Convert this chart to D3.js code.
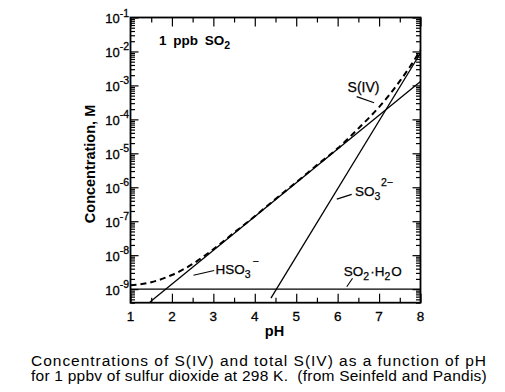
<!DOCTYPE html>
<html>
<head>
<meta charset="utf-8">
<script src="https://cdn.jsdelivr.net/npm/d3@7"></script>
<style>
  body { margin: 0; background: #fff; }
  svg { display: block; font-family: "Liberation Sans", Arial, Helvetica, sans-serif; }
</style>
</head>
<body>
<script>
// x axis (pH) ticks and y axis decades
const phTicks = [1, 2, 3, 4, 5, 6, 7, 8];
const phMinor = [1.5, 2.5, 3.5, 4.5, 5.5, 6.5, 7.5];
const decades = [-9, -8, -7, -6, -5, -4, -3, -2, -1];

// total S(IV), dashed curve
const sivPH = [1, 1.5, 2, 2.5, 3, 3.5, 4, 4.5, 5, 5.5, 6, 6.5, 7, 7.25, 7.5, 7.75, 8];
const sivConc = [1.3e-9, 1.6e-9, 2.6e-9, 5.5e-9, 1.5e-8, 4.6e-8, 1.4e-7, 4.5e-7, 1.4e-6,
                 4.5e-6, 1.4e-5, 5.4e-5, 2.3e-4, 5.3e-4, 1.34e-3, 3.6e-3, 1.1e-2];

// species, solid lines
const hso3PH = [1.47, 8];
const hso3Conc = [4.2e-10, 1.3e-3];
const so3PH = [4.39, 8];
const so3Conc = [5.4e-10, 9e-3];
const so2PH = [1, 8];
const so2Conc = [1.0e-9, 1.0e-9];

const caption = [
    "Concentrations of S(IV) and total S(IV) as a function of pH",
    "for 1 ppbv of sulfur dioxide at 298 K.  (from Seinfeld and Pandis)"
];

const width = 505, height = 392;
const plot = { left: 130.5, right: 420.5, top: 17.5, bottom: 302.7 };

const svg = d3.select('body').append('svg')
    .attr('width', width)
    .attr('height', height);

const x = d3.scaleLinear().domain([1, 8]).range([plot.left, plot.right]);
const y = d3.scaleLog().domain([Math.pow(10, -9.4), 0.1]).range([plot.bottom, plot.top]);

// minor ticks on the log axis
const yMajor = decades.map(d => Math.pow(10, d));
const yMinor = [];
for (let n = -10; n <= -2; n++) {
    for (let k = 2; k <= 9; k++) {
        const v = k * Math.pow(10, n);
        if (v >= y.domain()[0] && v <= y.domain()[1]) yMinor.push(v);
    }
}

function tickAxis(axis, values, size, transform) {
    svg.append('g')
        .attr('transform', transform)
        .call(axis.tickValues(values).tickSize(size).tickFormat(''))
        .call(g => g.select('.domain').remove())
        .call(g => g.selectAll('line').attr('stroke', '#000').attr('stroke-width', 1.2));
}

// ticks pointing inwards on all four sides
tickAxis(d3.axisLeft(y), yMajor, -8, `translate(${plot.left},0)`);
tickAxis(d3.axisLeft(y), yMinor, -4.5, `translate(${plot.left},0)`);
tickAxis(d3.axisRight(y), yMajor, -8, `translate(${plot.right},0)`);
tickAxis(d3.axisRight(y), yMinor, -4.5, `translate(${plot.right},0)`);
tickAxis(d3.axisBottom(x), phTicks, -9, `translate(0,${plot.bottom})`);
tickAxis(d3.axisBottom(x), phMinor, -5, `translate(0,${plot.bottom})`);
tickAxis(d3.axisTop(x), phTicks, -9, `translate(0,${plot.top})`);
tickAxis(d3.axisTop(x), phMinor, -5, `translate(0,${plot.top})`);

// frame
svg.append('rect')
    .attr('x', plot.left)
    .attr('y', plot.top)
    .attr('width', plot.right - plot.left)
    .attr('height', plot.bottom - plot.top)
    .attr('fill', 'none')
    .attr('stroke', '#000')
    .attr('stroke-width', 1.8);

// x tick labels
svg.append('g').selectAll('text')
    .data(phTicks)
    .enter()
    .append('text')
    .attr('x', d => x(d))
    .attr('y', 320.5)
    .attr('text-anchor', 'middle')
    .style('font-size', '13.5px')
    .style('stroke', '#000')
    .style('stroke-width', 0.3)
    .text(d => d);

// y tick labels with superscript exponents
const yLabels = svg.append('g').selectAll('text')
    .data(decades)
    .enter()
    .append('text')
    .attr('x', plot.left - 1.5)
    .attr('y', d => y(Math.pow(10, d)) + 5.5)
    .attr('text-anchor', 'end')
    .style('font-size', '13px')
    .style('stroke', '#000')
    .style('stroke-width', 0.3);
yLabels.append('tspan').text('10');
yLabels.append('tspan')
    .attr('dy', -6.5)
    .style('font-size', '10.5px')
    .text(d => '-' + Math.abs(d));

// axis titles
svg.append('text')
    .attr('x', 274.5)
    .attr('y', 335.5)
    .attr('text-anchor', 'middle')
    .style('font-size', '14.5px')
    .style('font-weight', 'bold')
    .text('pH');

svg.append('text')
    .attr('transform', 'translate(94.5,164) rotate(-90)')
    .attr('text-anchor', 'middle')
    .style('font-size', '14.5px')
    .style('font-weight', 'bold')
    .text('Concentration, M');

// data lines
const line = d3.line()
    .x(d => x(d[0]))
    .y(d => y(d[1]));

function drawLine(phs, concs, dashed, curve) {
    svg.append('path')
        .datum(d3.zip(phs, concs))
        .attr('d', line.curve(curve || d3.curveLinear))
        .attr('fill', 'none')
        .attr('stroke', '#000')
        .attr('stroke-width', dashed ? 2 : 1.3)
        .attr('stroke-dasharray', dashed ? '6,4' : null);
}

drawLine(so2PH, so2Conc, false);
drawLine(hso3PH, hso3Conc, false);
drawLine(so3PH, so3Conc, false);
drawLine(sivPH, sivConc, true, d3.curveMonotoneX);

// annotations placed in data coordinates (pH, log10 concentration)
const ax = p => x(p);
const ay = l => y(Math.pow(10, l));

function leader(p1, l1, p2, l2) {
    svg.append('line')
        .attr('x1', ax(p1)).attr('y1', ay(l1))
        .attr('x2', ax(p2)).attr('y2', ay(l2))
        .attr('stroke', '#000')
        .attr('stroke-width', 1.1);
}

// parts: text with a baseline shift (+ is down) and optional small size
function chem(p, l, parts, size) {
    const t = svg.append('text')
        .attr('x', ax(p))
        .attr('y', ay(l))
        .attr('xml:space', 'preserve')
        .style('font-size', (size || 13.5) + 'px')
        .style('stroke', '#000')
        .style('stroke-width', 0.25);
    let shift = 0;
    parts.forEach(part => {
        const s = t.append('tspan').text(part.t);
        const to = part.shift || 0;
        if (to !== shift) s.attr('dy', to - shift);
        shift = to;
        if (part.small) s.style('font-size', '10.5px');
        if (part.dx) s.attr('dx', part.dx);
    });
    return t;
}

chem(1.69, -1.81, [{ t: '1 ppb SO' }, { t: '2', shift: 4, small: true }], 13.5)
    .style('font-weight', 'bold')
    .style('stroke-width', 0)
    .style('word-spacing', '3px');

chem(6.24, -3.19, [{ t: 'S(IV)' }], 14);
leader(6.46, -3.33, 6.88, -3.51);

chem(6.42, -6.26, [{ t: 'SO' }, { t: '3', shift: 4, small: true },
                   { t: '2\u2212', shift: -10, small: true, dx: 0.5 }]);
leader(5.98, -6.35, 6.34, -6.21);

chem(3.05, -8.54, [{ t: 'HSO' }, { t: '3', shift: 4, small: true },
                   { t: '\u2212', shift: -9, small: true, dx: 2 }]);
leader(2.52, -8.59, 3.02, -8.45);

chem(6.15, -8.62, [{ t: 'SO' }, { t: '2', shift: 4, small: true }, { t: '\u00b7H', dx: 1 },
                   { t: '2', shift: 4, small: true }, { t: 'O', dx: 1 }]);
leader(6.22, -8.93, 6.36, -8.68);

// caption, one font size, letter spacing nudged so each line spans the original width
const cap = svg.append('g');
caption.forEach((c, i) => {
    const t = cap.append('text')
        .attr('x', 31)
        .attr('y', 365.5 + i * 15.5)
        .attr('xml:space', 'preserve')
        .style('font-size', '15.5px')
        .text(c);
    const w = t.node().getComputedTextLength();
    t.style('letter-spacing', ((456 - w) / c.length).toFixed(3) + 'px');
});
</script>
</body>
</html>
